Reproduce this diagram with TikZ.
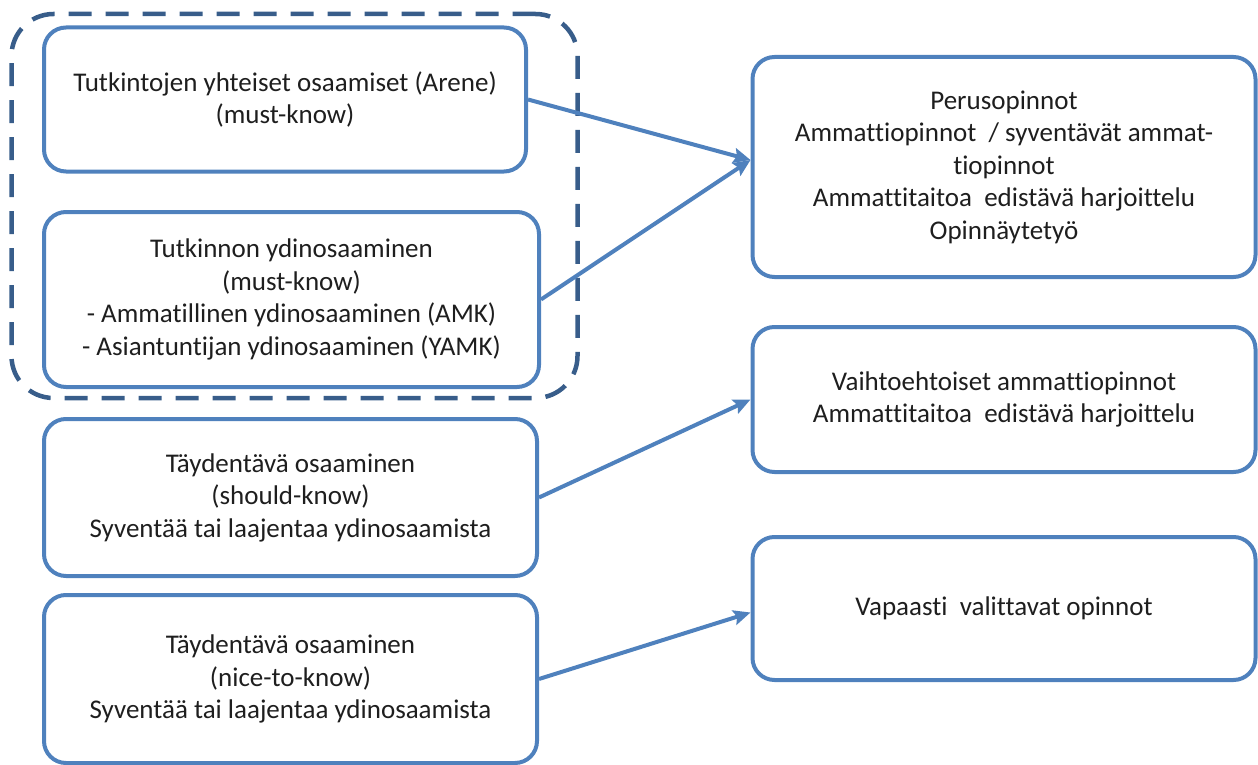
\documentclass[tikz,border=0pt]{standalone}
\usepackage{fontspec}
\setmainfont{Carlito}[Ligatures=NoCommon]
\usetikzlibrary{arrows.meta}
\definecolor{boxblue}{HTML}{4F81BD}
\definecolor{dashblue}{HTML}{385D8A}
\definecolor{txt}{HTML}{1E1E1E}
\tikzset{
  box/.style={draw=boxblue, line width=4pt, rounded corners=22pt, rectangle,
    align=center, text=txt, inner sep=0pt,
    font=\fontsize{27}{32.5}\selectfont},
  groupbox/.style={draw=dashblue, line width=4.5pt, rounded corners=42pt, rectangle,
    dash pattern=on 23pt off 14pt, inner sep=0pt},
  link/.style={draw=boxblue, line width=4pt, -{Stealth[length=17pt,width=15pt,inset=3pt]}}
}
\begin{document}
\begin{tikzpicture}[x=1pt,y=-1pt]
\useasboundingbox (0,0) rectangle (1258,765);
\node (grp) [groupbox, minimum width=566pt, minimum height=384pt] at (294.5,206) {};
\node (A) [box, minimum width=482pt, minimum height=144pt] at (285,99.5)
  {Tutkintojen yhteiset osaamiset (Arene)\\(must-know)};
\node (B) [box, minimum width=495pt, minimum height=175pt] at (291.5,299.5)
  {Tutkinnon ydinosaaminen\\(must-know)\\- Ammatillinen ydinosaaminen (AMK)\\- Asiantuntijan ydinosaaminen (YAMK)};
\node (C) [box, minimum width=493pt, minimum height=157pt] at (290.5,497.5)
  {Täydentävä osaaminen\\(should-know)\\Syventää tai laajentaa ydinosaamista};
\node (D) [box, minimum width=493pt, minimum height=168pt] at (290.5,679)
  {Täydentävä osaaminen\\(nice-to-know)\\Syventää tai laajentaa ydinosaamista};
\node (R1) [box, minimum width=503pt, minimum height=220pt] at (1004,167)
  {Perusopinnot\\Ammattiopinnot~ / syventävät ammat-\\tiopinnot\\Ammattitaitoa~ edistävä harjoittelu\\Opinnäytetyö};
\node (R2) [box, minimum width=503pt, minimum height=145pt] at (1004,399.5)
  {Vaihtoehtoiset ammattiopinnot\\Ammattitaitoa~ edistävä harjoittelu};
\node (R3) [box, minimum width=503pt, minimum height=143pt] at (1004,608.5)
  {Vapaasti~ valittavat opinnot};
\draw[link] (A.east) -- ([yshift=7pt]R1.west);
\draw[link] (B.east) -- ([yshift=7pt]R1.west);
\draw[link] (C.east) -- (R2.west);
\draw[link] (D.east) -- ([yshift=-4pt]R3.west);
\end{tikzpicture}
\end{document}
